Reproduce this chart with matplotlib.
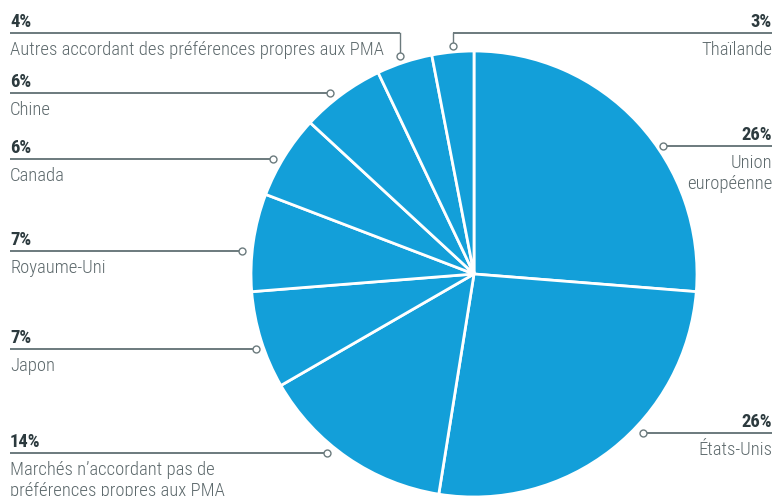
import matplotlib
matplotlib.use("Agg")
import matplotlib.pyplot as plt
from matplotlib import font_manager

# ---- data ----
categories = ["Union\neuropéenne", "États-Unis",
              "Marchés n’accordant pas de\npréférences propres aux PMA",
              "Japon", "Royaume-Uni", "Canada", "Chine",
              "Autres accordant des préférences propres aux PMA", "Thaïlande"]
shares = [26, 26, 14, 7, 7, 6, 6, 4, 3]
pct_labels = ["26%", "26%", "14%", "7%", "7%", "6%", "6%", "4%", "3%"]

names = {f.name for f in font_manager.fontManager.ttflist}
family = "Roboto"
for cand in ["Roboto Condensed", "Liberation Sans Narrow", "Open Sans Condensed", "Roboto"]:
    if cand in names:
        family = cand
        break

W, H = 775, 496
fig = plt.figure(figsize=(W / 100, H / 100), dpi=100)
ax = fig.add_axes([0, 0, 1, 1])
ax.set_xlim(0, W)
ax.set_ylim(0, H)
ax.axis("off")

def Y(y):
    return H - y

cx, cy, r = 474, 274, 223
ax.pie(shares, center=(cx, Y(cy)), radius=r, startangle=90, counterclock=False,
       colors=["#139fd9"] * len(shares),
       wedgeprops=dict(edgecolor="white", linewidth=2.0))
ax.set_xlim(0, W)
ax.set_ylim(0, H)
ax.set_aspect("auto")

line_c = "#6b7a7d"
pct_c = "#2c3a3e"
name_c = "#5d696c"
fs = 13.4

# label layout: (index, side, line_y, circle x, circle_y or None)
layout = [
    (0, "R", 146, 663, None),
    (1, "R", 433, 643, None),
    (2, "L", 453, 327, None),
    (3, "L", 349, 256, None),
    (4, "L", 251, 242, None),
    (5, "L", 159, 273, None),
    (6, "L", 93, 330, None),
    (7, "L", 33, 400, 56),
    (8, "R", 33, 453, 46),
]

for idx, side, ly, px, cyc in layout:
    if side == "L":
        x0, x1 = 10, px
        tx, ha = 10, "left"
    else:
        x0, x1 = px, 772
        tx, ha = 772, "right"
    ax.plot([x0, x1], [Y(ly), Y(ly)], color=line_c, lw=1.4, solid_capstyle="butt", zorder=3)
    if cyc is not None:
        ax.plot([px, px], [Y(ly), Y(cyc)], color=line_c, lw=1.0, zorder=3)
        dot_y = cyc
    else:
        dot_y = ly
    ax.plot([px], [Y(dot_y)], marker="o", ms=5, mfc="white", mec=line_c, mew=1.0, zorder=4)
    ax.text(tx, Y(ly - 6), pct_labels[idx], ha=ha, va="baseline", fontsize=fs,
            fontweight="bold", color=pct_c, family=family)
    for k, line in enumerate(categories[idx].split("\n")):
        ax.text(tx, Y(ly + 22 + 21 * k), line, ha=ha, va="baseline", fontsize=fs,
                fontweight="light", color=name_c, family=family)

fig.savefig("out.png", dpi=100)
